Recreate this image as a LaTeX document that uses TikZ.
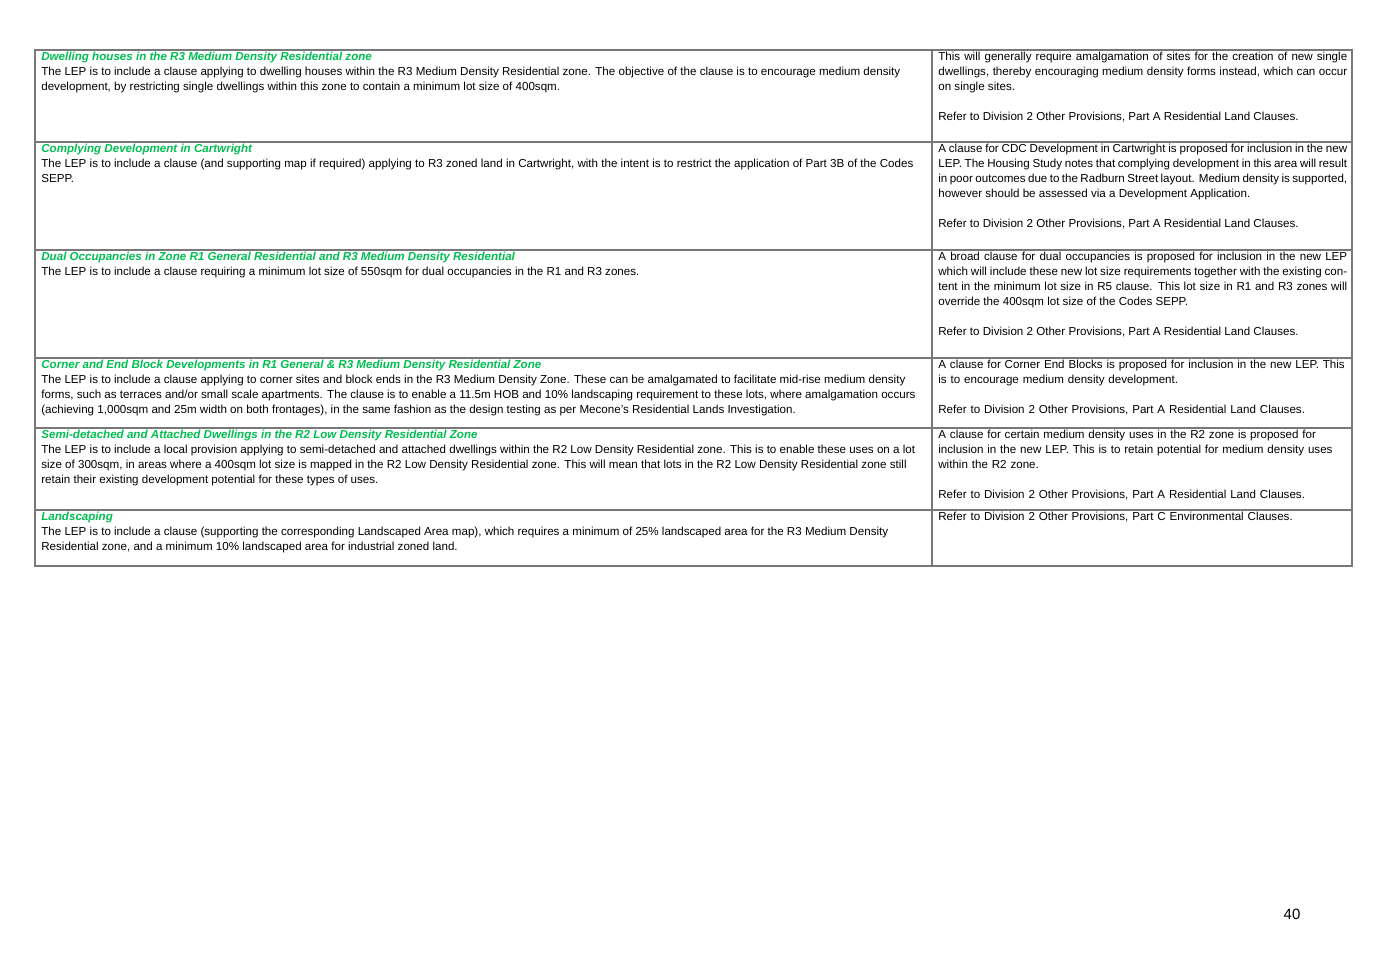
\documentclass[tikz,border=0pt]{standalone}
\usepackage{fontspec}
\setmainfont{Liberation Sans}
\definecolor{headgreen}{RGB}{0,190,80}
\definecolor{rulegray}{RGB}{120,120,120}
\tikzset{
  lcell/.style={anchor=north west, inner sep=0pt, align=left, font=\fontsize{6.6}{8.5}\selectfont},
  rcell/.style={anchor=north west, inner sep=0pt, text width=8.18cm, align=justify, font=\fontsize{6.6}{8.5}\selectfont},
  rcellrag/.style={rcell, align=left},
}
\newcommand{\rowhead}[1]{{\color{headgreen}\bfseries\itshape #1}}
\begin{document}
\begin{tikzpicture}[x=0.02cm,y=-0.02cm]
\useasboundingbox (0,0) rectangle (1382,977);
% table rules
\draw[rulegray, line width=0.6pt] (35,50) rectangle (1352,566);
\draw[rulegray, line width=0.6pt] (932,50) -- (932,566);
\foreach \yy in {142,250,358,428,510}
  \draw[rulegray, line width=0.6pt] (35,\yy) -- (1352,\yy);
% left column
\node[lcell] (dwell) at (41,52) {\rowhead{Dwelling houses in the R3 Medium Density Residential zone}\\
The LEP is to include a clause applying to dwelling houses within the R3 Medium Density Residential zone. The objective of the clause is to encourage medium density\\
development, by restricting single dwellings within this zone to contain a minimum lot size of 400sqm.};
\node[lcell] (comply) at (41,144) {\rowhead{Complying Development in Cartwright}\\
The LEP is to include a clause (and supporting map if required) applying to R3 zoned land in Cartwright, with the intent is to restrict the application of Part 3B of the Codes\\
SEPP.};
\node[lcell] (dual) at (41,252) {\rowhead{Dual Occupancies in Zone R1 General Residential and R3 Medium Density Residential}\\
The LEP is to include a clause requiring a minimum lot size of 550sqm for dual occupancies in the R1 and R3 zones.};
\node[lcell] (corner) at (41,360) {\rowhead{Corner and End Block Developments in R1 General \& R3 Medium Density Residential Zone}\\
The LEP is to include a clause applying to corner sites and block ends in the R3 Medium Density Zone. These can be amalgamated to facilitate mid-rise medium density\\
forms, such as terraces and/or small scale apartments. The clause is to enable a 11.5m HOB and 10\% landscaping requirement to these lots, where amalgamation occurs\\
(achieving 1,000sqm and 25m width on both frontages), in the same fashion as the design testing as per Mecone’s Residential Lands Investigation.};
\node[lcell] (semi) at (41,430) {\rowhead{Semi-detached and Attached Dwellings in the R2 Low Density Residential Zone}\\
The LEP is to include a local provision applying to semi-detached and attached dwellings within the R2 Low Density Residential zone. This is to enable these uses on a lot\\
size of 300sqm, in areas where a 400sqm lot size is mapped in the R2 Low Density Residential zone. This will mean that lots in the R2 Low Density Residential zone still\\
retain their existing development potential for these types of uses.};
\node[lcell] (land) at (41,512) {\rowhead{Landscaping}\\
The LEP is to include a clause (supporting the corresponding Landscaped Area map), which requires a minimum of 25\% landscaped area for the R3 Medium Density\\
Residential zone, and a minimum 10\% landscaped area for industrial zoned land.};
% right column
\node[rcell] (dwellnote) at (938,52) {This will generally require amalgamation of sites for the creation of new single dwellings, thereby encouraging medium density forms instead, which can occur on single sites.\par\vspace{8.5pt}
Refer to Division 2 Other Provisions, Part A Residential Land Clauses.};
\node[rcell] (complynote) at (938,144) {A clause for CDC Development in Cartwright is proposed for inclusion in the new LEP. The Housing Study notes that complying development in this area will result in poor outcomes due to the Radburn Street layout. Medium density is supported, however should be assessed via a Development Application.\par\vspace{8.5pt}
Refer to Division 2 Other Provisions, Part A Residential Land Clauses.};
\node[rcell] (dualnote) at (938,252) {A broad clause for dual occupancies is proposed for inclusion in the new LEP which will include these new lot size requirements together with the existing content in the minimum lot size in R5 clause. This lot size in R1 and R3 zones will override the 400sqm lot size of the Codes SEPP.\par\vspace{8.5pt}
Refer to Division 2 Other Provisions, Part A Residential Land Clauses.};
\node[rcellrag] (cornernote) at (938,360) {A clause for Corner End Blocks is proposed for inclusion in the new LEP. This\\ is to encourage medium density development.\\[8.5pt]
Refer to Division 2 Other Provisions, Part A Residential Land Clauses.};
\node[rcellrag] (seminote) at (938,430) {A clause for certain medium density uses in the R2 zone is proposed for\\ inclusion in the new LEP. This is to retain potential for medium density uses\\ within the R2 zone.\\[8.5pt]
Refer to Division 2 Other Provisions, Part A Residential Land Clauses.};
\node[rcellrag] (landnote) at (938,512) {Refer to Division 2 Other Provisions, Part C Environmental Clauses.};
% page number
\node[font=\fontsize{8.5}{10}\selectfont] (pagenum) at (1292,914) {40};
\end{tikzpicture}
\end{document}
